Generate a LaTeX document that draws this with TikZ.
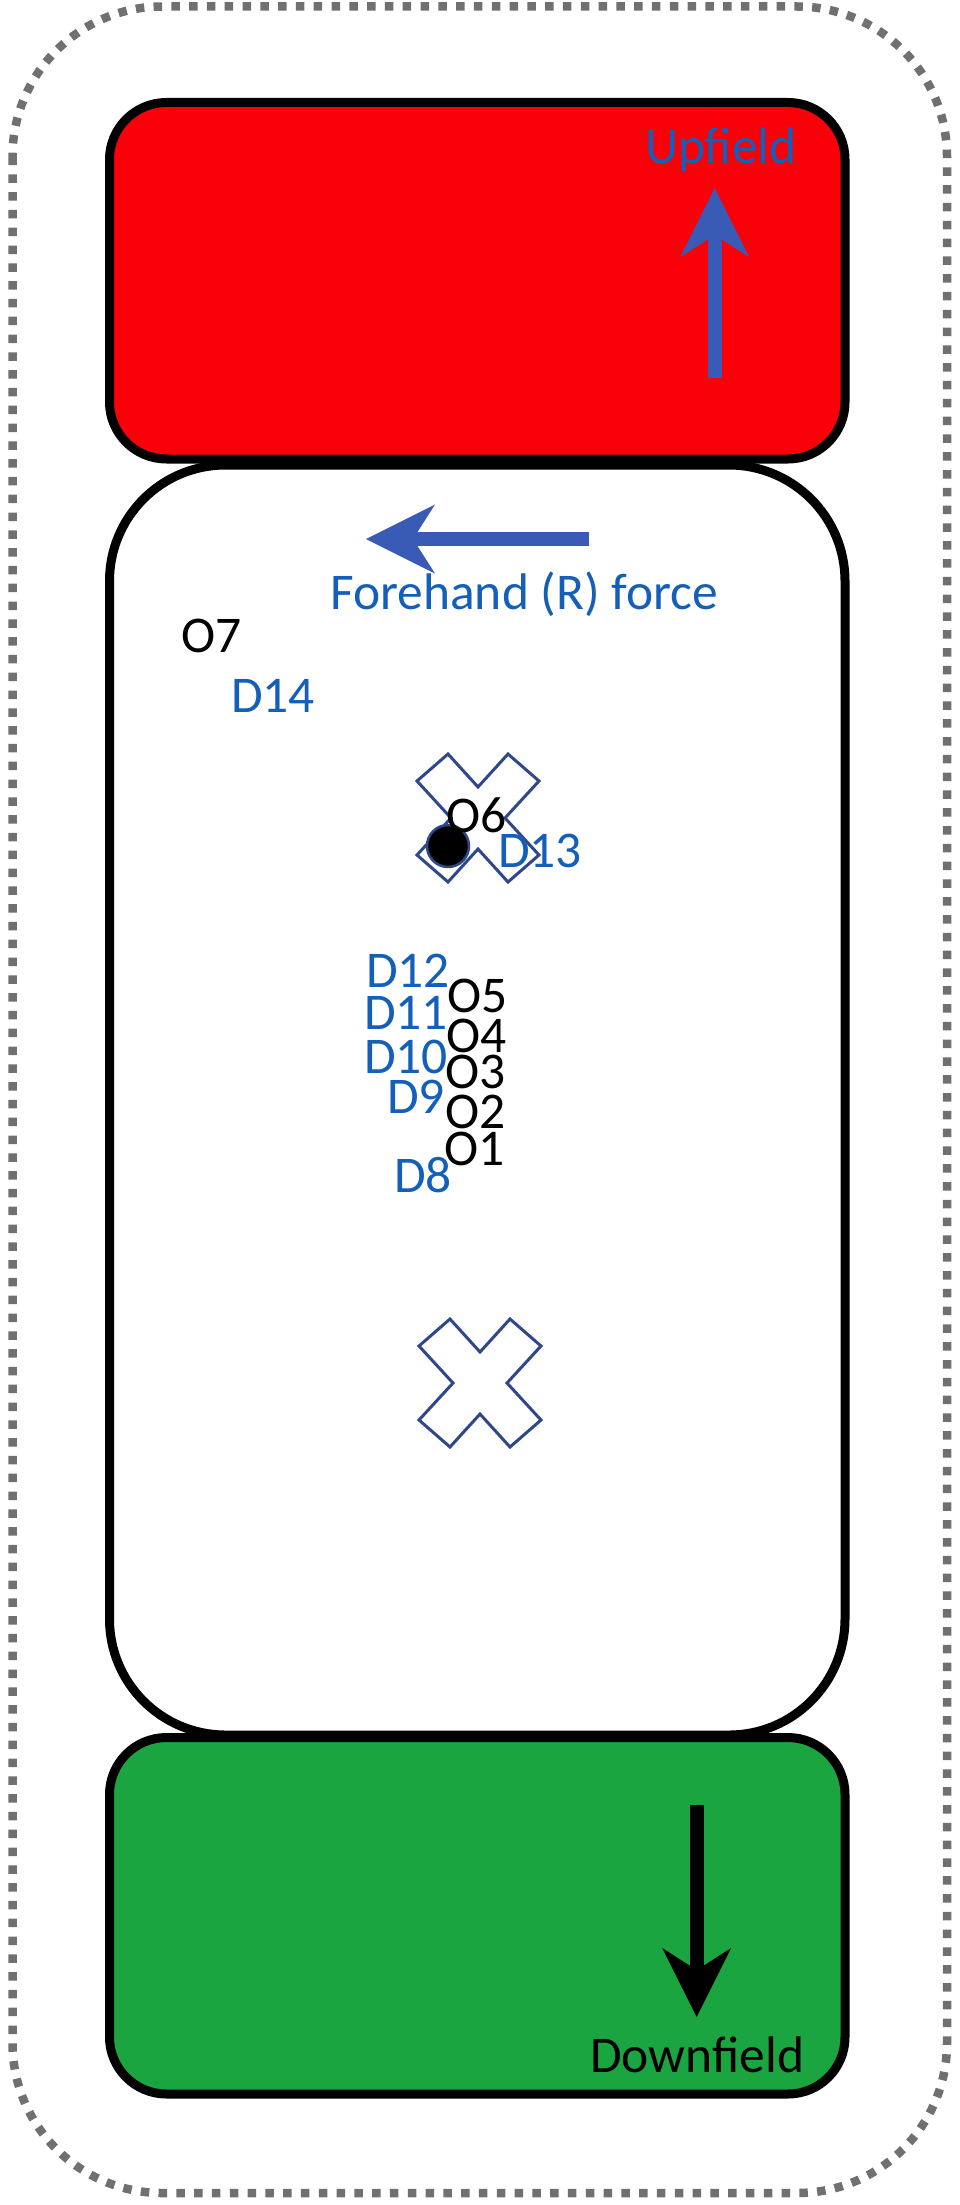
\documentclass[tikz,border=0pt]{standalone}
\usepackage{fontspec}
\setmainfont{Carlito}
\usetikzlibrary{arrows.meta}
\definecolor{fieldred}{RGB}{250,0,8}
\definecolor{fieldgreen}{RGB}{26,165,64}
\definecolor{arrowblue}{RGB}{58,91,181}
\definecolor{labelblue}{RGB}{20,95,185}
\definecolor{markblue}{RGB}{47,72,138}
\definecolor{bordergray}{RGB}{112,112,112}

\begin{document}
\begin{tikzpicture}[x=1pt, y=-1pt, zone_box/.style={draw=black, line width=9pt, rounded corners=57pt}, o_node/.style={anchor=base west, inner sep=0pt, font=\fontsize{51.5}{60}\selectfont}, d_node/.style={o_node, text=labelblue}, big_arrow/.style={line width=14pt, -{Stealth[length=69pt, width=69pt, inset=22pt, line width=0pt]}}, x_mark/.pic={\draw[markblue, line width=3pt, line join=miter] (-30,-64) -- (0,-31) -- (30,-64) -- (61,-37) -- (27,0) -- (61,37) -- (30,64) -- (0,31) -- (-30,64) -- (-61,37) -- (-27,0) -- (-61,-37) -- cycle;}]
	\useasboundingbox (0,0) rectangle (959,2205);
	\draw[bordergray, line width=8.5pt, dash pattern=on 8.5pt off 9.3pt, rounded corners=150pt] (12.5,6.5) rectangle (947,2193);
	\draw[zone_box, fill=fieldred] (109.5,102.5) rectangle (845,459);
	\draw[zone_box, fill=fieldgreen] (109.5,1737.5) rectangle (845,2094);
	\draw[zone_box, fill=white, rounded corners=116pt] (109.5,465) rectangle (845,1735);
	\coordinate (up_tail) at (714.7,378);
	\coordinate (up_head) at (714.7,188);
	\coordinate (force_tail) at (589,539);
	\coordinate (force_head) at (366,539);
	\coordinate (down_tail) at (696.7,1805);
	\coordinate (down_head) at (696.7,2017);
	\draw[big_arrow, arrowblue] (up_tail) -- (up_head);
	\draw[big_arrow, arrowblue] (force_tail) -- (force_head);
	\draw[big_arrow, black] (down_tail) -- (down_head);
	\node[d_node] (upfield) at (645,163) {Upfield};
	\node[d_node] (force) at (330,609) {Forehand (R) force};
	\node[o_node] (downfield) at (590,2072) {Downfield};
	\pic at (478,818) {x_mark};
	\pic at (480,1383) {x_mark};
	\node[circle, fill=black, draw=markblue, line width=2.5pt, minimum size=42pt, inner sep=0pt] (disc) at (448,846) {};
	\node[o_node] (o7) at (181,652) {O7};
	\node[d_node] (d14) at (231,712) {D14};
	\node[o_node] (o6) at (446,832) {O6};
	\node[d_node] (d13) at (498,867) {D13};
	\node[d_node] (d12) at (366,987) {D12};
	\node[o_node] (o5) at (447,1012) {O5};
	\node[d_node] (d11) at (364,1029) {D11};
	\node[o_node] (o4) at (446,1052) {O4};
	\node[d_node] (d10) at (364,1073) {D10};
	\node[o_node] (o3) at (445,1088) {O3};
	\node[d_node] (d9) at (387,1113) {D9};
	\node[o_node] (o2) at (445,1128) {O2};
	\node[o_node] (o1) at (444,1165) {O1};
	\node[d_node] (d8) at (394,1192) {D8};
\end{tikzpicture}
\end{document}
